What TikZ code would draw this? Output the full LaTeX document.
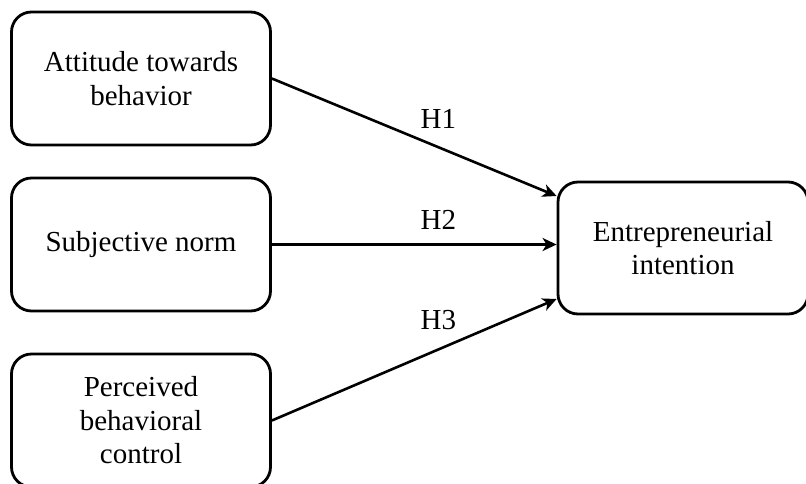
\documentclass[tikz,border=0pt]{standalone}
\usepackage{fontspec}
\setmainfont{Liberation Serif}
\usetikzlibrary{arrows.meta}
\begin{document}
\begin{tikzpicture}[x=1pt,y=-1pt,
  construct/.style={draw=black, line width=2.8pt, rounded corners=20pt,
    minimum width=259pt, minimum height=133pt, align=center,
    font=\fontsize{29}{33.5}\selectfont, inner sep=0pt},
  link/.style={line width=2.6pt, -{Stealth[length=14pt,width=13pt,inset=4pt]}},
  hyp/.style={font=\fontsize{29}{33.5}\selectfont, inner sep=0pt}]
  \useasboundingbox (0,0) rectangle (806,483);
  % predictor constructs
  \node[construct] (att) at (141,78.5) {Attitude towards\\behavior};
  \node[construct] (sn)  at (141,244.5) {Subjective norm};
  \node[construct] (pbc) at (141,420.5) {Perceived\\behavioral\\control};
  % outcome construct
  \node[construct, minimum width=250pt, minimum height=132pt] (ei) at (683,248) {Entrepreneurial\\intention};
  % hypothesised paths
  \draw[link] (att.east) -- ([yshift=52pt]ei.west)
    node[hyp, pos=0.585, yshift=28pt] {H1};
  \draw[link] (sn.east) -- (sn.east -| ei.west)
    node[hyp, pos=0.585, yshift=25pt] {H2};
  \draw[link] (pbc.east) -- ([yshift=-51pt]ei.west)
    node[hyp, pos=0.585, yshift=29pt] {H3};
\end{tikzpicture}
\end{document}
